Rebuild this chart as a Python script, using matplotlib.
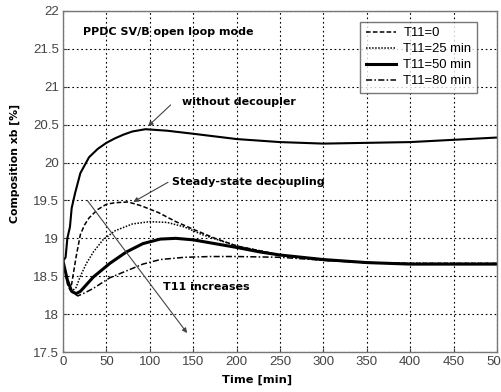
import matplotlib
matplotlib.use("Agg")
import matplotlib.pyplot as plt

plt.rcParams['font.family'] = ['Liberation Sans', 'DejaVu Sans']

# Without decoupler
t_nd = [0, 3, 5, 8, 10, 14, 20, 30, 40, 50, 60, 70, 80, 95, 120, 150, 200, 250, 300, 350, 400, 450, 500]
v_nd = [18.7, 18.75, 19.0, 19.15, 19.4, 19.6, 19.86, 20.07, 20.18, 20.26, 20.32, 20.37, 20.41, 20.44, 20.42, 20.38, 20.31, 20.27, 20.25, 20.26, 20.27, 20.30, 20.33]

# T11 = 0 (steady-state decoupling)
t_0 = [0, 5, 8, 10, 15, 20, 25, 30, 40, 50, 60, 75, 90, 110, 130, 150, 175, 200, 250, 300, 350, 400, 450, 500]
v_0 = [18.7, 18.4, 18.32, 18.4, 18.75, 19.05, 19.18, 19.27, 19.38, 19.45, 19.47, 19.48, 19.43, 19.34, 19.22, 19.12, 19.0, 18.9, 18.78, 18.71, 18.68, 18.67, 18.67, 18.67]

# T11 = 25 min
t_25 = [0, 5, 10, 15, 20, 27, 35, 46, 60, 80, 100, 120, 140, 160, 200, 250, 300, 350, 400, 450, 500]
v_25 = [18.7, 18.45, 18.3, 18.35, 18.5, 18.67, 18.82, 18.98, 19.1, 19.19, 19.22, 19.21, 19.15, 19.05, 18.9, 18.78, 18.71, 18.68, 18.67, 18.67, 18.67]

# T11 = 50 min
t_50 = [0, 5, 10, 15, 20, 35, 54, 73, 92, 112, 130, 150, 175, 200, 227, 250, 300, 350, 400, 450, 500]
v_50 = [18.7, 18.45, 18.3, 18.27, 18.3, 18.49, 18.67, 18.82, 18.93, 18.99, 19.0, 18.98, 18.93, 18.88, 18.82, 18.78, 18.72, 18.68, 18.66, 18.66, 18.66]

# T11 = 80 min
t_80 = [0, 5, 10, 17, 25, 35, 54, 73, 92, 112, 140, 170, 200, 250, 300, 350, 400, 450, 500]
v_80 = [18.7, 18.45, 18.3, 18.24, 18.28, 18.34, 18.48, 18.57, 18.66, 18.72, 18.75, 18.76, 18.76, 18.75, 18.71, 18.68, 18.66, 18.66, 18.66]

legend_labels = ["T11=0", "T11=25 min", "T11=50 min", "T11=80 min"]
x_ticks = list(range(0, 501, 50))
y_ticks = [17.5, 18, 18.5, 19, 19.5, 20, 20.5, 21, 21.5, 22]
y_tick_labels = ["17.5", "18", "18.5", "19", "19.5", "20", "20.5", "21", "21.5", "22"]

fig = plt.figure(figsize=(5.02, 3.92), dpi=100)
ax = fig.add_axes([0.1255, 0.102, 0.8645, 0.870])

ax.plot(t_nd, v_nd, color='black', lw=1.5, ls='-')
l0, = ax.plot(t_0, v_0, color='black', lw=1.1, ls=(0, (3, 1.5)), label=legend_labels[0])
l25, = ax.plot(t_25, v_25, color='black', lw=1.1, ls=(0, (1, 1)), label=legend_labels[1])
l50, = ax.plot(t_50, v_50, color='black', lw=2.2, ls='-', label=legend_labels[2])
l80, = ax.plot(t_80, v_80, color='black', lw=1.1, ls=(0, (4, 1.5, 1, 1.5)), label=legend_labels[3])

ax.set_xlim(0, 500)
ax.set_ylim(17.5, 22)
ax.set_xticks(x_ticks)
ax.set_yticks(y_ticks)
ax.set_yticklabels(y_tick_labels)
ax.tick_params(labelsize=9.5, colors='#444444', direction='in', length=3, pad=3)
ax.grid(True, color='black', ls=(0, (1.5, 2.5)), lw=0.8)
for s in ax.spines.values():
    s.set_color('#777777')
    s.set_linewidth(1.0)

bold = dict(family='DejaVu Sans', fontweight='bold')
ax.set_xlabel("Time [min]", fontsize=8.2, labelpad=3, **bold)
ax.xaxis.set_label_coords(0.447, -0.068)
ax.set_ylabel("Composition xb [%]", fontsize=7.8, labelpad=3, **bold)
ax.yaxis.set_label_coords(-0.099, 0.554)

ax.text(23, 21.72, "PPDC SV/B open loop mode", fontsize=8, va='center', ha='left', **bold)
ax.text(137, 20.8, "without decoupler", fontsize=8, va='center', ha='left', **bold)
ax.text(126, 19.74, "Steady-state decoupling", fontsize=8, va='center', ha='left', **bold)
ax.text(115, 18.36, "T11 increases", fontsize=8, va='center', ha='left', **bold)

arrow_kw = dict(arrowstyle='-|>', color='#444444', lw=0.8, mutation_scale=7, shrinkA=0, shrinkB=0)
ax.annotate("", xy=(98, 20.48), xytext=(124, 20.76), arrowprops=arrow_kw)
ax.annotate("", xy=(81, 19.48), xytext=(121, 19.74), arrowprops=arrow_kw)
ax.annotate("", xy=(143, 17.75), xytext=(28, 19.5), arrowprops=arrow_kw)

leg = ax.legend(handles=[l0, l25, l50, l80], loc='upper right', bbox_to_anchor=(0.954, 0.968),
                prop={'family': 'Liberation Sans', 'size': 9.4}, frameon=True, fancybox=False,
                edgecolor='#555555', handlelength=2.3, handletextpad=0.6, borderpad=0.4,
                borderaxespad=0.0, labelspacing=0.3)
leg.get_frame().set_linewidth(1.0)

fig.savefig("out.png", dpi=100)
